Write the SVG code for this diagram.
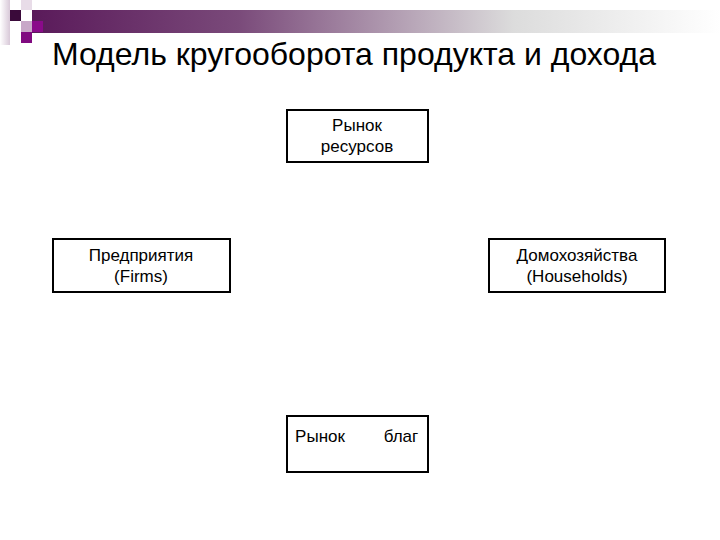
<svg xmlns="http://www.w3.org/2000/svg" width="720" height="540" viewBox="0 0 720 540">
<defs>
<linearGradient id="bar" x1="0" x2="1" y1="0" y2="0">
<stop offset="0" stop-color="#5a1a5a"/>
<stop offset="0.3" stop-color="#7a4a7a"/>
<stop offset="0.7" stop-color="#dcdcdc"/>
<stop offset="1" stop-color="#ffffff"/>
</linearGradient>
<linearGradient id="side" x1="0" x2="1">
<stop offset="0" stop-color="#ffffff"/>
<stop offset="1" stop-color="#d8c8d8"/>
</linearGradient>
<style>
.box{fill:#fff;stroke:#000;stroke-width:2}
.t{font-family:"Liberation Sans",Arial,sans-serif;font-size:17px;text-anchor:middle;fill:#000}
</style>
</defs>
<rect width="720" height="540" fill="#fff"/>
<rect x="0" y="0" width="10" height="45" fill="url(#side)"/>
<rect x="32" y="10" width="688" height="23" fill="url(#bar)"/>
<rect x="21" y="0" width="11" height="10" fill="#e8dce8"/>
<rect x="10" y="10" width="11" height="11" fill="#3a0a3a"/>
<rect x="21" y="21" width="11" height="11" fill="#c8a8c8"/>
<rect x="32" y="21" width="11" height="11" fill="#8a0a8a"/>
<rect x="21" y="32" width="11" height="11" fill="#800a80"/>
<text x="52" y="65" font-family="'Liberation Sans',Arial,sans-serif" font-size="32" fill="#000">Модель кругооборота продукта и дохода</text>
<g id="resources"><rect class="box" x="287" y="110" width="141" height="52"/><text class="t" x="357" y="131">Рынок</text><text class="t" x="357" y="152">ресурсов</text></g>
<g id="firms"><rect class="box" x="53" y="239" width="177" height="53"/><text class="t" x="141" y="261">Предприятия</text><text class="t" x="141" y="282">(Firms)</text></g>
<g id="households"><rect class="box" x="489" y="239" width="176" height="53"/><text class="t" x="577" y="261">Домохозяйства</text><text class="t" x="577" y="282">(Households)</text></g>
<g id="goods"><rect class="box" x="287" y="416" width="141" height="56"/><text class="t" x="320" y="442">Рынок</text><text class="t" x="401" y="442">благ</text></g>
<g id="connectors"/>
</svg>
